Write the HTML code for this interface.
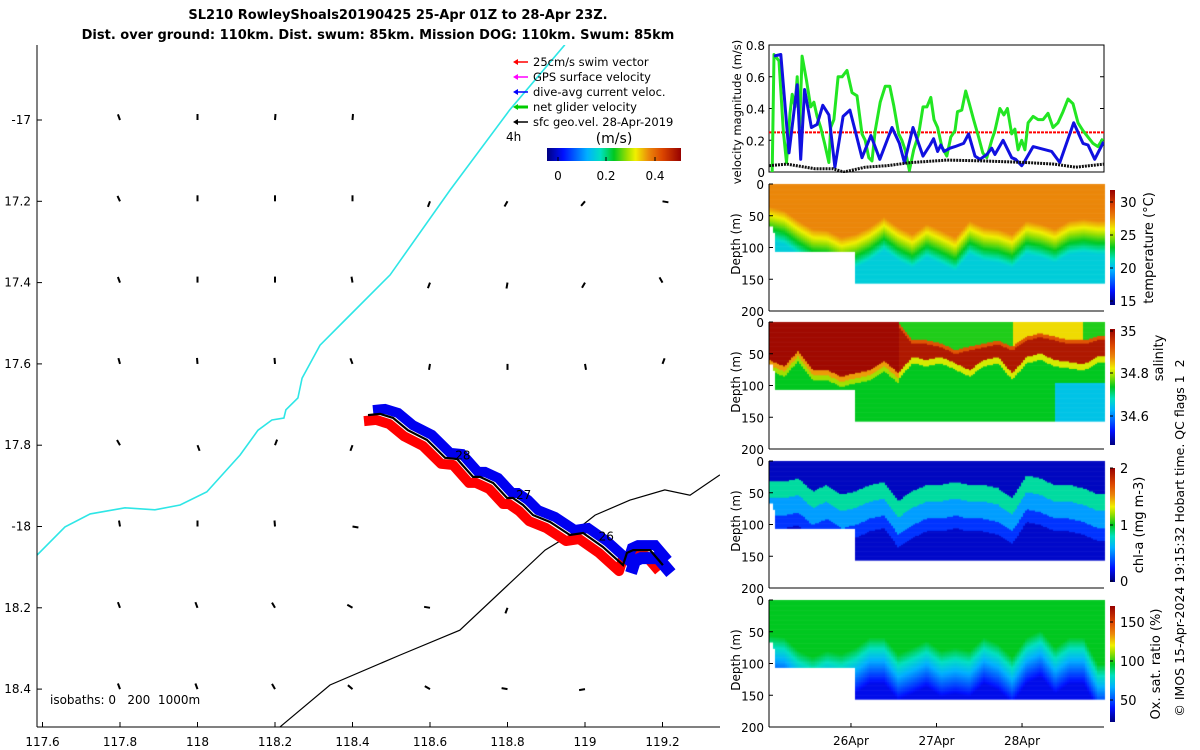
<!DOCTYPE html>
<html><head><meta charset="utf-8">
<style>
html,body{margin:0;padding:0;background:#fff;}
body{width:1200px;height:750px;overflow:hidden;position:relative;font-family:"DejaVu Sans","Liberation Sans",sans-serif;}
svg{position:absolute;left:0;top:0;}
canvas{position:absolute;left:0;top:0;}
</style></head>
<body>
<canvas id="hm" width="1200" height="750"></canvas>
<svg id="s" width="1200" height="750" xmlns="http://www.w3.org/2000/svg" font-family="DejaVu Sans, Liberation Sans, sans-serif">
  <text x="398" y="19" text-anchor="middle" font-size="13" font-weight="bold">SL210 RowleyShoals20190425 25-Apr 01Z to 28-Apr 23Z.</text>
  <text x="378" y="39" text-anchor="middle" font-size="13" font-weight="bold">Dist. over ground: 110km. Dist. swum: 85km. Mission DOG: 110km. Swum: 85km</text>
  <g id="map"></g>
  <g id="vel"></g>
  <g id="pan"></g>
</svg>
<script>
// ---------- velocity data (hours since 25-Apr 01Z, m/s) ----------
const greenH=[0.9,1.4,2.8,4.0,4.9,5.9,6.5,7.3,7.9,8.6,9.3,10.5,11.7,12.6,13.5,14.5,15.6,16.8,17.3,18.2,19.4,20.5,21.9,23.3,24.7,26.1,27.0,28.0,28.9,29.8,31.2,32.6,33.9,35.0,36.4,37.3,38.2,39.4,40.6,42.0,43.2,44.3,45.4,46.3,47.3,48.5,49.9,51.0,52.2,52.9,54.1,55.2,56.2,57.4,58.8,60.0,61.1,62.5,63.4,64.8,65.9,66.9,68.1,69.0,69.9,70.9,71.8,72.7,74.1,75.5,76.9,78.3,79.7,81.1,82.5,83.9,85.3,86.7,88.1,89.5,90.9,92.3,93.7];
const greenV=[0,0.74,0.70,0.26,0.06,0.37,0.49,0.41,0.60,0.28,0.73,0.58,0.41,0.44,0.35,0.28,0.18,0.06,0.28,0.33,0.60,0.60,0.64,0.50,0.48,0.24,0.20,0.09,0.07,0.26,0.44,0.54,0.54,0.42,0.24,0.20,0.14,0.01,0.14,0.24,0.41,0.41,0.47,0.33,0.28,0.16,0.10,0.22,0.26,0.38,0.39,0.51,0.43,0.33,0.22,0.12,0.09,0.20,0.26,0.40,0.36,0.40,0.24,0.27,0.14,0.20,0.14,0.31,0.35,0.33,0.33,0.37,0.28,0.31,0.38,0.46,0.43,0.31,0.26,0.22,0.18,0.16,0.21];
const blueH=[1.4,3.3,5.6,7.9,8.9,10.0,11.9,13.5,15.1,16.8,18.5,20.8,22.7,24.4,26.1,28.6,31.1,34.5,36.6,38.0,40.4,43.2,45.2,46.2,47.3,48.2,49.1,50.8,52.2,54.6,56.0,57.8,59.2,61.1,62.5,63.4,65.7,68.1,69.2,70.9,71.8,74.1,79.3,81.6,85.5,88.1,89.5,91.4,93.9];
const blueV=[0.73,0.74,0.12,0.55,0.08,0.52,0.28,0.30,0.42,0.36,0.03,0.35,0.39,0.24,0.09,0.23,0.08,0.28,0.18,0.06,0.28,0.10,0.17,0.21,0.13,0.17,0.13,0.15,0.16,0.18,0.24,0.10,0.08,0.11,0.15,0.11,0.20,0.09,0.08,0.04,0.07,0.16,0.13,0.06,0.31,0.18,0.17,0.08,0.19];
const blackH=[0,5,13,18,21,27,33,40,50,60,72,80,86,94];
const blackV=[0.04,0.05,0.02,0.02,0.0,0.03,0.04,0.06,0.075,0.07,0.06,0.05,0.03,0.05];
const swimRef=0.25;
const velTicks=[0,0.2,0.4,0.6,0.8];
const dayTicksH=[23,47,71];
const dayLabels=["26Apr","27Apr","28Apr"];
// ---------- profile data (every 4 h, depths in m) ----------
const profH=[0,4,8,12,16,20,24,28,32,36,40,44,48,52,56,60,64,68,72,76,80,84,88,92];
const tempMixD=[35,41,57,70,72,83,78,67,51,67,78,62,72,83,57,67,70,78,57,62,70,57,54,57];
const salRedBot=[60,69,45,75,75,85,80,75,60,80,54,59,54,64,75,59,54,80,54,49,59,62,66,54];
const salRedTop=[0,0,0,0,0,0,0,0,0,0,28,28,33,43,38,33,28,38,22,17,22,28,28,22];
const chlMaxD=[50,50,45,65,55,70,65,55,50,80,65,55,55,50,55,55,60,75,40,45,55,55,60,70];
const oxyMixD=[55,58,79,89,79,84,74,58,58,84,74,63,79,74,79,58,68,89,58,47,74,58,58,100];
const depthTicks=[0,50,100,150,200];
// ---------- map data (lon, lat) ----------
const trackLon=[118.440,118.471,118.505,118.543,118.592,118.639,118.670,118.711,118.729,118.763,118.799,118.814,118.840,118.866,118.910,118.961,118.995,119.046,119.098,119.108,119.124,119.168,119.201];
const trackLat=[-17.726,-17.723,-17.733,-17.763,-17.787,-17.831,-17.834,-17.878,-17.878,-17.893,-17.930,-17.930,-17.947,-17.972,-17.989,-18.021,-18.016,-18.050,-18.095,-18.065,-18.058,-18.058,-18.095];
const iso0Lon=[118.948,118.806,118.652,118.497,118.381,118.316,118.270,118.259,118.228,118.223,118.192,118.156,118.110,118.024,117.955,117.890,117.813,117.723,117.658,117.586];
const iso0Lat=[-16.815,-16.975,-17.172,-17.381,-17.492,-17.554,-17.635,-17.684,-17.713,-17.733,-17.738,-17.763,-17.824,-17.915,-17.947,-17.959,-17.954,-17.969,-18.001,-18.070];
const iso200Lon=[118.213,118.342,118.523,118.677,118.897,118.961,119.026,119.116,119.206,119.271,119.348];
const iso200Lat=[-18.493,-18.390,-18.316,-18.255,-18.058,-18.021,-17.972,-17.935,-17.910,-17.923,-17.873];
const lonTicks=[117.6,117.8,118,118.2,118.4,118.6,118.8,119,119.2];
const latTicks=[-17,-17.2,-17.4,-17.6,-17.8,-18,-18.2,-18.4];
const latLabels=["-17","17.2","17.4","17.6","17.8","-18","18.2","18.4"];
const dayMarkLon=[118.665,118.822,119.035];
const dayMarkLat=[-17.835,-17.932,-18.034];
const dayMarkText=["28","27","26"];
const vecAng=[
 [-20,0,5,5,null,null,null,null],
 [-25,0,0,0,200,210,220,100],
 [-20,0,0,-10,200,190,210,-30],
 [-15,-5,-5,-20,190,180,170,20],
 [-30,160,20,200,null,null,null,null],
 [-10,0,-5,100,null,null,null,null],
 [-20,-20,-30,-60,-80,200,null,null],
 [-20,-20,-30,-50,-60,-80,-100,null]];

const NS="http://www.w3.org/2000/svg";
function mk(tag,attrs,parent){const e=document.createElementNS(NS,tag);for(const k in attrs)e.setAttribute(k,attrs[k]);parent.appendChild(e);return e;}
function txt(str,attrs,parent){const e=mk('text',attrs,parent);e.textContent=str;return e;}

// colormap
const cmStops=[[0,[0,0,128]],[0.12,[0,16,255]],[0.3,[0,176,255]],[0.4,[0,224,192]],[0.5,[0,200,32]],[0.6,[160,224,0]],[0.66,[240,240,0]],[0.76,[235,135,10]],[0.86,[220,70,0]],[1,[150,0,0]]];
function cmap(t){t=Math.max(0,Math.min(1,t));for(let i=1;i<cmStops.length;i++){if(t<=cmStops[i][0]){const a=cmStops[i-1],b=cmStops[i];const f=(t-a[0])/(b[0]-a[0]);return a[1].map((v,k)=>Math.round(v+f*(b[1][k]-v)));}}return cmStops[cmStops.length-1][1];}

// ---------- map ----------
const map=document.getElementById('map');
const lonX=l=>42.5+(l-117.6)/0.2*77.5;
const latY=l=>120+(-17-l)/0.2*81.3;
const defs=mk('defs',{},map);
const cp=mk('clipPath',{id:'mapclip'},defs);
mk('rect',{x:37,y:45,width:683,height:682},cp);
const mg=mk('g',{'clip-path':'url(#mapclip)'},map);
function pts(lo,la,dx,dy){return lo.map((v,i)=>(lonX(v)+(dx||0)).toFixed(1)+','+(latY(la[i])+(dy||0)).toFixed(1)).join(' ');}
let e;
e=mk('polyline',{points:pts(iso0Lon,iso0Lat),fill:'none',stroke:'#2ee6e6','stroke-width':1.6},mg);

e=mk('polyline',{points:pts(iso200Lon,iso200Lat),fill:'none',stroke:'#000','stroke-width':1.2},mg);

vecAng.forEach((row,r)=>{row.forEach((a,c)=>{if(a===null)return;
  const x=lonX(117.8+0.2*c),y=latY(latTicks[r]);const rad=a*Math.PI/180;
  const v=mk('line',{x1:x,y1:y,x2:(x+6*Math.sin(rad)).toFixed(1),y2:(y-6*Math.cos(rad)).toFixed(1),stroke:'#000','stroke-width':2},mg);
  });});
e=mk('polyline',{points:pts(trackLon,trackLat,-4,6),fill:'none',stroke:'#f00','stroke-width':10,'stroke-linejoin':'round'},mg);

e=mk('polyline',{points:pts(trackLon,trackLat,5,-5),fill:'none',stroke:'#0000f0','stroke-width':10,'stroke-linejoin':'miter'},mg);

e=mk('polyline',{points:pts(trackLon.slice(-5),trackLat.slice(-5),8,8),fill:'none',stroke:'#0000f0','stroke-width':12},mg);

e=mk('polyline',{points:pts(trackLon,trackLat),fill:'none',stroke:'#000','stroke-width':2.2},mg);

dayMarkText.forEach((t,i)=>{const d=txt(t,{x:lonX(dayMarkLon[i]),y:latY(dayMarkLat[i]),'font-size':12},mg);
  });
mk('line',{x1:37,y1:45,x2:37,y2:727,stroke:'#000'},map);
mk('line',{x1:37,y1:727,x2:720,y2:727,stroke:'#000'},map);
lonTicks.forEach(l=>{const x=lonX(l);mk('line',{x1:x,y1:727,x2:x,y2:722,stroke:'#000'},map);
  const t=txt(String(l),{x:x,y:746,'text-anchor':'middle','font-size':12},map);
  });
latTicks.forEach((l,i)=>{const y=latY(l);mk('line',{x1:37,y1:y,x2:42,y2:y,stroke:'#000'},map);
  const t=txt(latLabels[i],{x:31,y:y+4,'text-anchor':'end','font-size':12},map);
  });
e=txt('isobaths: 0\u00a0\u00a0\u00a0200\u00a0\u00a01000m',{x:50,y:704,'font-size':12},map);

const lg=mk('g',{},map);
const legC=['#f00','#f0f','#00f','#0c0','#000'];
const legT=['25cm/s swim vector','GPS surface velocity','dive-avg current veloc.','net glider velocity','sfc geo.vel. 28-Apr-2019'];
legT.forEach((t,i)=>{const y=62+i*15;
  mk('line',{x1:517,y1:y,x2:528,y2:y,stroke:legC[i],'stroke-width':i==3?3:1.5},lg);
  mk('path',{d:`M513,${y} l5,-3 l0,6 z`,fill:legC[i]},lg);
  const tt=txt(t,{x:533,y:y+4,'font-size':11.5},lg);});
txt('4h',{x:506,y:141,'font-size':12},lg);
txt('(m/s)',{x:614,y:143,'text-anchor':'middle','font-size':14},lg);
const lgr=mk('linearGradient',{id:'jetH'},defs);
const lgv=mk('linearGradient',{id:'jetV',x1:0,y1:1,x2:0,y2:0},defs);
cmStops.forEach(s=>{const c=`rgb(${s[1].join(',')})`;mk('stop',{offset:s[0],'stop-color':c},lgr);mk('stop',{offset:s[0],'stop-color':c},lgv);});
mk('rect',{x:547,y:148,width:134,height:13,fill:'url(#jetH)'},lg);
[[0,558],[0.2,606],[0.4,655]].forEach(p=>{mk('line',{x1:p[1],y1:161,x2:p[1],y2:157,stroke:'#000'},lg);
  txt(String(p[0]),{x:p[1],y:180,'text-anchor':'middle','font-size':12},lg);});

// ---------- velocity panel ----------
const vel=document.getElementById('vel');
const X0=769,X1=1104,TH=94;
const hx=h=>X0+h/TH*(X1-X0);
const vy=v=>172-v/0.8*127;
mk('rect',{x:X0,y:45,width:X1-X0,height:127,fill:'none',stroke:'#000'},vel);
velTicks.forEach(v=>{mk('line',{x1:X0,y1:vy(v),x2:X0+4,y2:vy(v),stroke:'#000'},vel);
  mk('line',{x1:X1,y1:vy(v),x2:X1-4,y2:vy(v),stroke:'#000'},vel);
  const t=txt(String(v),{x:765,y:vy(v)+5,'text-anchor':'end','font-size':12},vel);
  });
e=txt('velocity magnitude (m/s)',{transform:'translate(741,112) rotate(-90)','text-anchor':'middle','font-size':11.5},vel);

const vcp=mk('clipPath',{id:'velclip'},defs);mk('rect',{x:X0,y:44,width:X1-X0,height:129},vcp);
const vg=mk('g',{'clip-path':'url(#velclip)'},vel);
e=mk('line',{x1:X0,y1:vy(swimRef),x2:X1,y2:vy(swimRef),stroke:'#f00','stroke-width':2,'stroke-dasharray':'3,1'},vg);

function series(H,V,col,w,name,dash){const p=mk('polyline',{points:H.map((h,i)=>hx(h).toFixed(1)+','+vy(V[i]).toFixed(1)).join(' '),fill:'none',stroke:col,'stroke-width':w,'stroke-linejoin':'round'},vg);
  if(dash)p.setAttribute('stroke-dasharray',dash);
  }
series(greenH,greenV,'#22e622',3,'net-glider-velocity-line');
series(blueH,blueV,'#1010e0',3,'dive-avg-current-line');
series(blackH,blackV,'#111',3,'surface-geo-velocity-line','2,1');

// ---------- profile panels ----------
function interp(H,A,h){if(h<=H[0])return A[0];for(let i=1;i<H.length;i++){if(h<=H[i]){const f=(h-H[i-1])/(H[i]-H[i-1]);return A[i-1]+f*(A[i]-A[i-1]);}}return A[A.length-1];}
function bottom(h){return h<0.6?65:(h<1.2?75:(h<24.1?105:155));}
function tTemp(h,d){const m=interp(profH,tempMixD,h);if(d<m)return 0.76;return Math.max(0.36,0.76-(d-m)*0.0075);}
function tSal(h,d){const b=interp(profH,salRedBot,h);
  if(h<36){if(d<b)return 0.98;if(d<b+8)return 0.74;if(d<b+16)return 0.6;return 0.5;}
  const top=interp(profH,salRedTop,h);
  if(d<top){return (h>68&&h<88)?0.68:0.52;}
  if(d<b)return (d<top+6)?0.84:0.95;
  if(d<b+10)return 0.64;
  if(h>80&&d>95)return 0.34;
  return 0.5;}
function tChl(h,d){const c=interp(profH,chlMaxD,h);
  if(d<c-18)return 0.06;if(d<c+8)return 0.42;if(d<c+35)return 0.28;if(d<c+55)return 0.16;return 0.07;}
function tOxy(h,d){const m=interp(profH,oxyMixD,h);if(d<m)return 0.5;return Math.max(0.1,0.5-(d-m)*0.0055);}
const panelTop=[184,322,461,600];
const panelFn=[tTemp,tSal,tChl,tOxy];
const ctx=document.getElementById('hm').getContext('2d');
const dpx=127/200;
panelFn.forEach((fn,p)=>{for(let x=X0;x<X1;x+=2){const h=(x-X0)/(X1-X0)*TH;const bt=bottom(h);
  for(let d=0;d<bt;d+=2){const c=cmap(fn(h,d));ctx.fillStyle=`rgb(${c[0]},${c[1]},${c[2]})`;
    ctx.fillRect(x,panelTop[p]+d*dpx,2,2*dpx+0.6);}}});
const pan=document.getElementById('pan');
const cbar=[[190,305,[[30,202],[25,235],[20,268],[15,301]],'temperature (°C)',1153,248],
 [329,445,[[35,331],[34.8,373],[34.6,416]],'salinity',1163,358],
 [468,582,[[2,468],[1,525],[0,581]],'chl-a (mg m-3)',1143,525],
 [606,722,[[150,622],[100,661],[50,700]],'Ox. sat. ratio (%)',1160,664]];
const pnames=['temperature','salinity','chlorophyll','oxygen'];
panelTop.forEach((y0,p)=>{
  mk('line',{x1:X0,y1:y0,x2:X0,y2:y0+127,stroke:'#000'},pan);
  mk('line',{x1:X0,y1:y0+127,x2:X1,y2:y0+127,stroke:'#000'},pan);
  depthTicks.forEach(d=>{const y=y0+d*dpx;mk('line',{x1:X0,y1:y,x2:X0+4,y2:y,stroke:'#000'},pan);
    const t=txt(String(d),{x:764,y:y+5,'text-anchor':'end','font-size':12},pan);
    });
  const yl=txt('Depth (m)',{transform:`translate(740,${y0+60}) rotate(-90)`,'text-anchor':'middle','font-size':12},pan);
  
  const cb=cbar[p];
  const r=mk('rect',{x:1110,y:cb[0],width:5,height:cb[1]-cb[0],fill:'url(#jetV)'},pan);
  
  cb[2].forEach(tk=>{mk('line',{x1:1110,y1:tk[1],x2:1113,y2:tk[1],stroke:'#000'},pan);
    txt(String(tk[0]),{x:1120,y:tk[1]+5,'font-size':13},pan);});
  const cl=txt(cb[3],{transform:`translate(${cb[4]},${cb[5]}) rotate(-90)`,'text-anchor':'middle','font-size':13},pan);
  
});
dayTicksH.forEach((h,i)=>{const x=hx(h);mk('line',{x1:x,y1:727,x2:x,y2:723,stroke:'#000'},pan);
  const t=txt(dayLabels[i],{x:x,y:745,'text-anchor':'middle','font-size':12},pan);
  });
e=txt('© IMOS 15-Apr-2024 19:15:32 Hobart time. QC flags 1\u00a0\u00a02',{transform:'translate(1184,538) rotate(-90)','text-anchor':'middle','font-size':12.5},pan);

</script>
</body></html>
